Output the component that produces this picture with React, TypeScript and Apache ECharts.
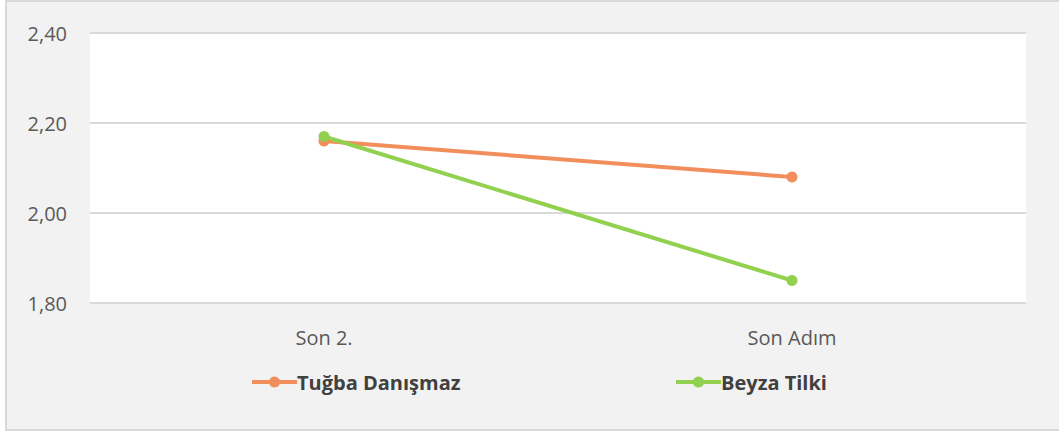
import React, { useEffect, useRef } from "react";
import * as echarts from "echarts";

const categories = ["Son 2.", "Son Adım"];
const seriesNames = ["Tuğba Danışmaz", "Beyza Tilki"];
const tugbaValues = [2.16, 2.08];
const beyzaValues = [2.17, 1.85];
const yTicks = { min: 1.8, max: 2.4, interval: 0.2 };
const colors = ["#F28E5C", "#92D050"];

export default function App() {
  const ref = useRef<HTMLDivElement>(null);
  useEffect(() => {
    document.body.style.margin = "0";
    const chart = echarts.init(ref.current!, null, { renderer: "svg" });
    const font = "'Open Sans', 'Noto Sans', sans-serif";
    const legendText = { fontFamily: font, fontSize: 20, fontWeight: "bold", color: "#404040", padding: [0, 0, 0, -5] };
    chart.setOption({
      animation: false,
      backgroundColor: "#ffffff",
      graphic: [
        {
          type: "rect",
          z: -10,
          silent: true,
          shape: { x: 6, y: 1, width: 1060, height: 429 },
          style: { fill: "#f2f2f2", stroke: "#d9d9d9", lineWidth: 2 },
        },
      ],
      grid: {
        left: 90,
        right: 33,
        top: 33,
        bottom: 129,
        show: true,
        backgroundColor: "#ffffff",
        borderWidth: 0,
      },
      legend: [
        {
          data: [seriesNames[0]],
          left: 245,
          top: 367,
          itemWidth: 45,
          itemHeight: 14,
          itemGap: 0,
          lineStyle: { width: 4 },
          textStyle: legendText,
        },
        {
          data: [seriesNames[1]],
          left: 669,
          top: 367,
          itemWidth: 45,
          itemHeight: 14,
          itemGap: 0,
          lineStyle: { width: 4 },
          textStyle: legendText,
        },
      ],
      xAxis: {
        type: "category",
        data: categories,
        boundaryGap: true,
        axisLine: { show: false },
        axisTick: { show: false },
        axisLabel: { fontFamily: font, fontSize: 20, color: "#595959", margin: 24 },
      },
      yAxis: {
        type: "value",
        min: yTicks.min,
        max: yTicks.max,
        interval: yTicks.interval,
        axisLine: { show: false },
        axisTick: { show: false },
        splitLine: { lineStyle: { color: "#d9d9d9", width: 2 } },
        axisLabel: {
          fontFamily: font,
          fontSize: 20,
          color: "#595959",
          margin: 23,
          formatter: (v: number) => v.toFixed(2).replace(".", ","),
        },
      },
      series: [
        {
          name: seriesNames[0],
          type: "line",
          data: tugbaValues,
          symbol: "circle",
          symbolSize: 11,
          itemStyle: { color: colors[0] },
          lineStyle: { color: colors[0], width: 4 },
        },
        {
          name: seriesNames[1],
          type: "line",
          data: beyzaValues,
          symbol: "circle",
          symbolSize: 11,
          itemStyle: { color: colors[1] },
          lineStyle: { color: colors[1], width: 4 },
        },
      ],
    });
    return () => chart.dispose();
  }, []);
  return (
    <div
      ref={ref}
      style={{ position: "absolute", left: 0, top: 0, width: 1059, height: 432 }}
    />
  );
}
